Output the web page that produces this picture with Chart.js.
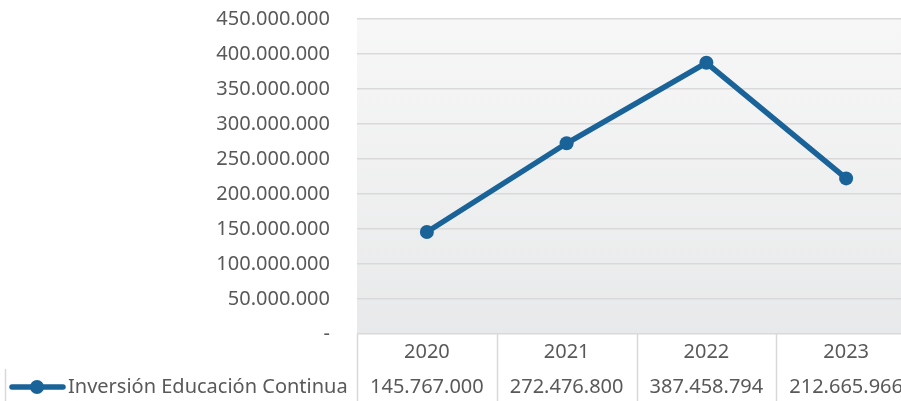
<!DOCTYPE html>
<html>
<head>
<meta charset="utf-8">
<script src="https://cdn.jsdelivr.net/npm/chart.js@4.4.1/dist/chart.umd.min.js"></script>
<style>
  html, body { margin: 0; padding: 0; background: #fff; overflow: hidden; }
  #wrap { width: 923px; height: 401px; }
</style>
</head>
<body>
<div id="wrap"><canvas id="chart" width="923" height="401"></canvas></div>
<script>
const years = ['2020', '2021', '2022', '2023'];
const seriesName = 'Inversión Educación Continua';
// plotted positions
const values = [145767000, 272476800, 387458794, 222300000];
// numbers printed in the data table
const tableValues = ['145.767.000', '272.476.800', '387.458.794', '212.665.966'];

const FONT = '"Noto Sans", sans-serif';
const TEXT = '#595959';
const GRID = '#d9d9d9';
const BLUE = '#1a6399';

function fmt(v) {
  if (v === 0) return '-';
  return String(v).replace(/\B(?=(\d{3})+(?!\d))/g, '.');
}

// gradient fill behind the plot area
const plotBg = {
  id: 'plotBg',
  beforeDraw(chart) {
    const { ctx, chartArea: a } = chart;
    const g = ctx.createLinearGradient(0, a.top, 0, a.bottom);
    g.addColorStop(0, '#f7f7f7');
    g.addColorStop(1, '#e8e9ea');
    ctx.save();
    ctx.fillStyle = g;
    ctx.fillRect(a.left, a.top, a.right - a.left, a.bottom - a.top);
    ctx.restore();
  }
};

// data table under the plot
const dataTable = {
  id: 'dataTable',
  afterDraw(chart) {
    const { ctx, chartArea: a } = chart;
    const colW = (a.right - a.left) / years.length;
    const row1 = a.bottom + 35;
    const bottom = chart.height;
    ctx.save();
    ctx.strokeStyle = GRID;
    ctx.lineWidth = 1.5;
    for (let i = 0; i <= years.length; i++) {
      const lx = Math.round(a.left + i * colW) + 0.5;
      ctx.beginPath();
      ctx.moveTo(lx, a.bottom);
      ctx.lineTo(lx, bottom);
      ctx.stroke();
    }
    ctx.beginPath();
    ctx.moveTo(5.5, row1);
    ctx.lineTo(5.5, bottom);
    ctx.stroke();

    ctx.font = '20px ' + FONT;
    ctx.fillStyle = TEXT;
    ctx.textAlign = 'center';
    ctx.textBaseline = 'middle';
    years.forEach((y, i) => {
      const cx = a.left + (i + 0.5) * colW;
      ctx.fillText(y, cx, a.bottom + 18);
      ctx.fillText(tableValues[i], cx, row1 + 18);
    });

    // legend key
    const ky = row1 + 18;
    ctx.strokeStyle = BLUE;
    ctx.lineWidth = 5.5;
    ctx.lineCap = 'round';
    ctx.beginPath();
    ctx.moveTo(12, ky);
    ctx.lineTo(63, ky);
    ctx.stroke();
    ctx.fillStyle = BLUE;
    ctx.beginPath();
    ctx.arc(37, ky, 7, 0, Math.PI * 2);
    ctx.fill();
    ctx.fillStyle = TEXT;
    ctx.textAlign = 'left';
    ctx.fillText(seriesName, 68, ky);
    ctx.restore();
  }
};

const chart = new Chart(document.getElementById('chart'), {
  type: 'line',
  data: {
    labels: years,
    datasets: [{
      label: seriesName,
      data: values,
      borderColor: BLUE,
      backgroundColor: BLUE,
      borderWidth: 5.5,
      pointRadius: 7,
      pointHoverRadius: 7,
      pointBorderWidth: 0,
      tension: 0
    }]
  },
  options: {
    responsive: false,
    animation: false,
    layout: { padding: { top: 19, right: 0, bottom: 0, left: 0 } },
    plugins: { legend: { display: false }, tooltip: { enabled: false } },
    scales: {
      x: {
        offset: true,
        grid: { display: false, drawTicks: false },
        border: { display: false },
        ticks: { display: false },
        afterFit(s) { s.height = 67; }
      },
      y: {
        min: 0,
        max: 450000000,
        grid: { color: GRID, lineWidth: 1.5, drawTicks: false },
        border: { display: false },
        ticks: {
          stepSize: 50000000,
          padding: 27,
          color: TEXT,
          font: { family: FONT, size: 20 },
          callback: v => fmt(v)
        },
        afterFit(s) {
          s.width = 357;
          s.paddingTop = 0;
          s.paddingBottom = 0;
        }
      }
    }
  },
  plugins: [plotBg, dataTable]
});
</script>
</body>
</html>
